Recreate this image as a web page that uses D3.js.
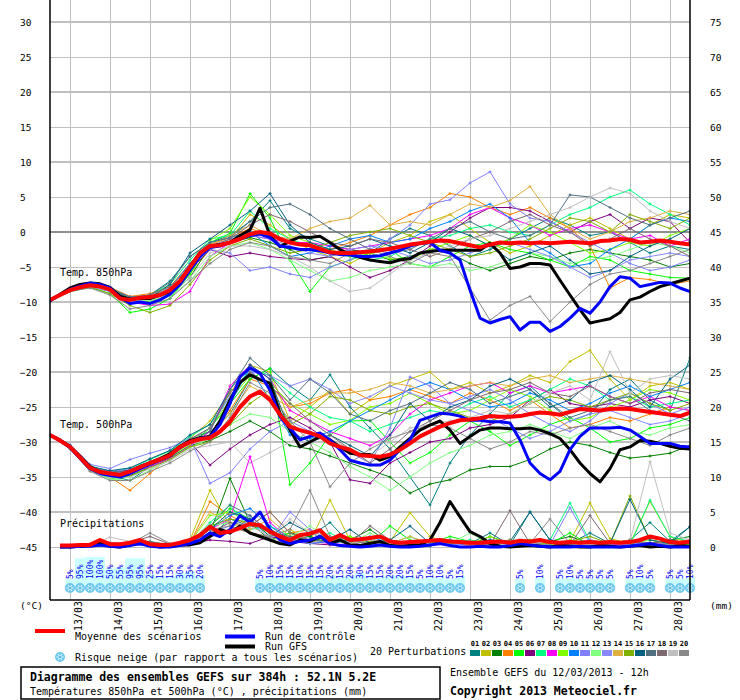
<!DOCTYPE html>
<html lang="fr">
<head>
<meta charset="UTF-8" />
<title>Diagramme des ensembles GEFS</title>
<script src="https://d3js.org/d3.v7.min.js"></script>
<style>
  body { margin: 0; background: #ffffff; }
  svg { display: block; font-family: "DejaVu Sans Mono", monospace; }
  .grid { stroke: #c0c0c0; shape-rendering: crispEdges; }
  .txt { font-size: 10px; fill: #000; }
  .tick-lbl { font-size: 9.5px; fill: #000; }
  .bold { font-size: 11.5px; font-weight: bold; fill: #000; }
</style>
</head>
<body>
<svg id="chart" width="740" height="700"></svg>
<script>
// ---- time steps ----
const hours6 = d3.range(0, 385, 6);    // mean / control / GFS
const hours12 = d3.range(0, 385, 12);  // perturbations
const dateLabels = ["13/03","14/03","15/03","16/03","17/03","18/03","19/03","20/03",
                    "21/03","22/03","23/03","24/03","25/03","26/03","27/03","28/03"];

// ---- 850 hPa (°C), 6h ----
const mean850 = [
  -9.7,-9.0,-8.3,-7.9,-7.6,-7.8,-8.2,-9.5,-9.7,-9.4,-9.3,-9.0,-8.3,
  -7.0,-5.0,-3.0,-2.0,-1.9,-1.5,-1.0,-0.3,0.0,-0.2,-1.0,-1.5,-1.8,
  -1.9,-2.4,-2.9,-3.0,-3.0,-2.9,-2.8,-2.6,-2.4,-2.1,-1.8,-1.6,-1.4,
  -1.2,-1.3,-1.6,-1.9,-2.2,-1.8,-1.5,-1.6,-1.5,-1.6,-1.5,-1.6,-1.5,
  -1.4,-1.5,-1.6,-1.3,-1.2,-1.0,-1.1,-1.5,-1.4,-1.2,-1.4,-1.6,-1.8];
const ctrl850 = [
  -9.8,-9.0,-8.2,-7.7,-7.3,-7.5,-8.0,-9.4,-10.2,-10.0,-10.2,-9.7,-8.9,
  -7.5,-5.5,-3.5,-2.2,-2.0,-1.5,-1.0,-0.5,-0.3,-0.8,-2.0,-2.2,-2.5,
  -2.5,-2.7,-3.0,-3.2,-3.3,-3.5,-3.5,-3.4,-3.0,-2.6,-2.0,-1.6,-1.5,
  -2.6,-3.0,-4.0,-8.3,-12.3,-13.0,-12.5,-12.1,-14.0,-12.9,-12.9,-14.2,-13.5,
  -12.3,-10.9,-11.6,-10.0,-7.8,-6.4,-6.6,-7.8,-7.5,-7.2,-7.3,-8.0,-8.5];
const gfs850 = [
  -9.8,-8.9,-8.0,-7.5,-7.3,-7.4,-7.9,-9.2,-9.6,-9.5,-9.5,-9.0,-8.5,
  -7.0,-5.0,-3.0,-2.0,-1.8,-1.5,-0.5,0.3,3.4,-0.5,-2.1,-1.3,-0.7,
  -0.8,-0.6,-1.5,-2.5,-3.2,-3.6,-4.0,-4.2,-4.4,-4.0,-3.8,-3.0,-2.8,
  -2.6,-2.6,-2.6,-2.6,-2.6,-1.6,-3.0,-5.2,-5.0,-4.5,-4.5,-4.7,-6.9,
  -9.0,-11.1,-13.0,-12.7,-12.4,-11.5,-9.7,-9.3,-8.5,-7.8,-7.4,-7.0,-6.6];

// ---- 500 hPa (°C), 6h ----
const mean500 = [
  -29.0,-29.8,-30.7,-32.2,-33.7,-34.3,-34.5,-34.7,-34.2,-33.6,-33.0,-32.5,-31.9,
  -30.7,-30.0,-29.6,-29.4,-28.5,-27.1,-25.0,-23.5,-22.8,-24.0,-26.1,-27.8,-28.3,
  -28.7,-29.2,-30.2,-30.7,-31.1,-31.9,-32.0,-32.1,-31.8,-31.1,-30.2,-29.2,-28.5,
  -27.8,-27.3,-26.9,-26.8,-26.6,-26.3,-26.4,-26.4,-26.3,-26.0,-25.8,-25.9,-26.1,
  -25.7,-25.3,-25.4,-25.5,-25.3,-25.2,-25.3,-25.5,-25.7,-25.9,-26.1,-26.3,-25.8];
const ctrl500 = [
  -29.0,-29.8,-30.8,-32.3,-33.8,-34.5,-34.8,-35.0,-34.5,-33.8,-33.2,-32.6,-32.0,
  -30.8,-30.0,-29.5,-29.3,-27.5,-24.5,-20.7,-19.4,-20.2,-22.6,-26.4,-28.0,-29.7,
  -29.2,-28.7,-29.7,-31.1,-32.6,-33.0,-33.3,-33.3,-32.6,-31.1,-29.7,-26.9,-26.4,
  -25.9,-26.0,-26.3,-26.9,-26.9,-27.1,-27.1,-27.3,-29.7,-33.0,-34.5,-35.4,-34.2,
  -31.1,-29.2,-28.0,-28.0,-28.0,-27.9,-28.3,-29.2,-30.2,-30.2,-30.2,-30.6,-30.7];
const gfs500 = [
  -29.0,-29.7,-30.6,-32.0,-33.5,-34.3,-34.6,-34.8,-34.2,-33.5,-33.0,-32.4,-31.7,
  -30.6,-29.8,-29.4,-29.2,-27.0,-24.0,-21.5,-20.4,-21.1,-21.6,-25.9,-28.3,-30.7,
  -30.0,-29.2,-29.7,-30.7,-31.6,-31.8,-31.8,-32.6,-32.1,-30.7,-29.5,-28.3,-27.6,
  -27.0,-28.3,-30.2,-29.2,-28.3,-28.0,-28.0,-28.1,-28.1,-28.0,-28.3,-28.8,-29.5,
  -31.1,-33.0,-34.5,-35.7,-33.8,-31.1,-30.7,-29.8,-29.9,-30.2,-30.6,-30.9,-31.0];

// ---- precipitation (mm), 6h, from +6h ----
const meanPrecip = [
  0.2,0.2,0.3,0.3,1.0,0.4,0.4,0.6, 1.0,0.4,0.3,0.3,0.6,1.0,1.7,2.9,
  2.0,2.2,2.7,3.3,3.1,2.2,1.5,1.0, 1.7,1.9,2.4,1.0,1.7,1.0,1.1,1.3,
  1.5,0.8,0.6,0.7,0.8,0.9,1.0,0.8, 0.7,0.6,0.6,0.7,0.8,0.6,0.9,0.8,
  1.0,0.7,0.6,0.7,0.6,0.7,0.6,0.7, 0.6,0.7,1.0,1.5,1.2,0.7,0.6,0.8];
const ctrlPrecip = [
  0.0,0.0,0.1,0.1,0.3,0.1,0.0,0.2, 0.5,0.1,0.0,0.0,0.2,0.5,1.0,2.0,
  1.5,2.5,4.5,3.5,5.0,2.5,1.0,0.5, 0.8,1.0,1.5,0.5,0.2,0.1,0.0,0.1,
  0.3,0.1,0.0,0.0,0.1,0.3,0.5,0.2, 0.0,0.0,0.1,0.0,0.0,0.2,0.5,0.3,
  0.1,0.0,0.0,0.0,0.1,0.0,0.0,0.0, 0.0,0.1,0.3,0.5,0.2,0.0,0.0,0.0];
const gfsPrecip = [
  0.0,0.0,0.1,0.2,0.5,0.1,0.0,0.3, 0.8,0.2,0.0,0.1,0.3,0.3,0.6,1.5,
  2.5,2.0,3.0,2.0,1.5,1.0,0.5,0.3, 1.0,0.8,1.5,0.5,1.0,0.3,0.2,0.5,
  0.8,0.2,0.1,0.2,0.3,1.0,3.5,6.5, 4.3,2.2,1.5,0.5,0.1,0.0,0.1,0.2,
  0.1,0.0,0.2,0.1,0.0,0.0,0.2,0.1, 0.0,0.1,0.2,0.0,0.1,0.0,0.2,0.1];

// ---- 20 perturbations ----
const pertNames = ["01","02","03","04","05","06","07","08","09","10",
                   "11","12","13","14","15","16","17","18","19","20"];
const pertColors = ["#008080","#c0c000","#008000","#ff8000","#00ff00","#800080","#00ff80","#ff00ff","#80ff00","#0080ff",
                    "#8080ff","#80ff80","#8888ff","#e0b040","#80b000","#006080","#507080","#806870","#c0c0c0","#888888"];

// 850 hPa, 12h steps
const pert850 = [
  [-9.8,-8.2,-7.5,-8.0,-9.4,-9.0,-7.0,-3.5,-1.5,-0.5,1.5, 4.5,0.5,-1.0,-2.0,-2.5,-3.0,-1.0,0.5,-0.5,-2.0,-3.5, -2.5,-1.0,0.5,2.0,1.0,-0.5,0.0,-1.5,-3.0,-2.0,-2.5],
  [-9.7,-8.4,-7.8,-8.3,-9.8,-9.6,-8.8,-6.0,-2.5,-1.0,2.5, 1.0,-1.0,-2.5,-3.5,-4.5,-3.0,-1.5,-0.5,1.5,2.5,0.5, -1.5,-3.0,-2.0,-0.5,1.0,2.0,0.5,-1.0,1.0,2.5,2.0],
  [-9.8,-8.3,-7.7,-8.5,-10.0,-10.2,-9.0,-6.5,-2.0,-1.5,-0.8, -1.5,-2.5,-4.0,-3.5,-2.5,-3.0,-4.0,-3.5,-2.5,-3.0,-4.5, -5.5,-4.5,-3.5,-4.0,-3.0,-2.5,-3.0,-3.5,-4.0,-5.0,-4.5],
  [-9.6,-8.1,-7.4,-7.9,-9.2,-8.8,-7.8,-4.5,-1.8,-0.8,0.5, -0.5,-1.5,-2.0,-2.5,-1.5,-0.5,1.0,2.5,3.5,5.5,5.0, 3.5,2.5,3.5,2.0,0.5,-2.0,-8.0,-6.5,-6.8,-7.5,-7.0],
  [-9.9,-8.5,-7.9,-8.8,-11.5,-11.0,-9.5,-6.0,-1.5,-0.2,5.5, 2.0,-4.0,-8.5,-5.0,-4.0,-3.0,-2.5,-4.5,-5.0,-3.5,-2.0, -1.5,-2.5,-3.0,-4.0,-5.0,-3.5,-4.0,-5.5,-6.0,-6.5,-6.6],
  [-9.8,-8.4,-7.7,-8.3,-9.6,-9.4,-8.0,-5.5,-2.5,-3.5,-3.0, -3.5,-3.8,-4.0,-3.5,-5.0,-6.5,-5.5,-4.0,-2.0,0.0,2.0, 3.5,3.5,3.0,1.5,0.0,1.5,2.5,0.5,2.0,1.5,-1.5],
  [-9.7,-8.2,-7.5,-8.1,-9.5,-9.0,-7.5,-4.0,-1.0,-0.5,3.0, 0.5,-1.0,-2.0,-3.0,-3.5,-4.0,-3.5,-2.0,-1.0,-0.5,0.5, 1.0,0.0,-0.5,1.0,2.5,3.5,5.0,6.0,4.0,2.5,1.0],
  [-9.8,-8.3,-7.6,-8.4,-10.0,-10.5,-10.3,-8.5,-3.5,-1.5,-0.5, -1.0,-1.5,-1.5,-2.0,-2.5,-2.0,-1.5,-1.0,-0.5,0.5,2.5, 3.5,2.0,1.0,-0.5,0.5,1.0,0.0,-1.0,-0.5,-2.0,-1.0],
  [-9.7,-8.2,-7.6,-8.2,-9.8,-9.9,-9.0,-5.5,-1.2,0.5,5.0, 2.5,-0.5,-1.5,-2.5,-3.5,-3.0,-3.8,-4.0,-2.5,-1.5,-0.5, -2.0,-1.0,1.0,0.0,-1.5,-3.0,-2.5,-1.5,-2.0,-0.5,0.5],
  [-9.8,-8.3,-7.5,-8.0,-9.3,-9.2,-8.0,-4.5,-1.5,-0.8,0.0, -2.0,-3.5,-3.0,-2.0,-1.0,-0.5,-1.5,-1.0,0.5,1.5,3.0, 4.0,2.0,-1.5,-3.0,-5.0,-4.5,-2.5,-1.0,1.0,2.0,1.5],
  [-9.9,-8.4,-7.8,-8.5,-9.8,-9.5,-8.5,-5.0,-2.5,-3.0,-5.5, -5.0,-6.0,-6.5,-5.0,-4.0,-2.5,-1.0,1.0,4.0,4.6,7.0, 8.6,4.0,2.0,1.5,0.0,-1.5,-3.0,-4.5,-5.5,-5.0,-4.0],
  [-9.7,-8.3,-7.7,-8.3,-9.7,-9.8,-9.2,-7.0,-3.5,-2.0,-1.5, -2.5,-4.0,-5.5,-7.0,-6.5,-5.5,-5.0,-4.5,-5.0,-4.5,-5.5, -5.0,-4.0,-3.0,-3.5,-4.5,-4.0,-3.5,-2.5,-1.5,-2.0,-3.0],
  [-9.8,-8.2,-7.6,-8.1,-9.4,-9.3,-8.4,-5.5,-2.2,-1.0,-0.5, -1.0,-2.0,-3.0,-3.5,-2.5,-2.0,-2.5,-3.5,-4.5,-4.0,-3.0, -2.0,-1.5,-2.5,-3.5,-5.0,-6.5,-5.5,-4.0,-3.5,-3.0,-3.5],
  [-9.6,-8.1,-7.5,-8.0,-9.4,-9.1,-8.1,-4.8,-1.8,-0.5,1.0, -0.5,-1.0,0.5,1.5,2.0,3.8,1.0,1.5,1.0,2.5,4.0, 3.5,4.5,6.5,2.5,0.5,-1.0,0.0,1.5,2.0,3.0,2.5],
  [-9.8,-8.4,-7.9,-8.8,-10.5,-11.5,-10.5,-7.5,-4.0,-2.0,-1.0, -2.0,-3.0,-2.5,-1.5,-0.5,0.0,0.5,-0.5,-1.5,-2.5,-3.5, -3.0,-2.0,-1.0,0.5,2.0,1.5,0.0,2.5,1.5,0.5,2.0],
  [-9.8,-8.3,-7.6,-8.2,-9.5,-9.4,-7.5,-3.0,-1.0,1.0,3.0, 5.5,1.0,-1.5,-2.5,-2.0,-1.0,-2.0,-3.0,-1.5,0.5,-0.5, -2.0,-4.0,-3.0,-2.0,-4.0,-6.0,-5.5,-3.5,-2.0,-1.0,0.5],
  [-9.7,-8.2,-7.6,-8.1,-9.3,-9.0,-7.2,-3.5,-1.5,-0.8,1.5, 3.5,4.0,2.5,0.5,-1.0,-2.5,-3.0,-2.5,-1.0,0.5,1.5, 0.0,-1.0,-0.5,1.0,5.3,5.0,3.5,2.0,1.0,2.0,3.0],
  [-9.8,-8.4,-7.7,-8.3,-9.6,-9.0,-7.8,-5.0,-2.0,-1.0,1.0, 2.5,1.5,0.0,-1.5,-2.0,-1.0,-1.5,-2.5,-3.5,-2.5,-1.0, 0.0,1.5,2.5,1.0,0.0,-2.0,-1.0,0.5,-1.0,-2.0,-3.5],
  [-9.8,-8.3,-7.7,-8.4,-9.9,-9.6,-9.0,-6.5,-3.0,-2.0,-2.0, -2.5,-3.5,-5.0,-7.0,-8.5,-8.0,-6.0,-4.0,-3.0,-2.0,-1.0, -0.5,0.5,1.5,2.5,3.5,5.0,6.3,5.5,3.0,1.5,0.5],
  [-9.9,-8.5,-8.0,-9.0,-11.0,-10.5,-9.5,-7.0,-4.5,-2.5,-1.5, -2.0,-3.5,-4.0,-4.5,-3.0,-2.5,-3.5,-4.5,-3.0,-3.5,-8.0, -12.6,-10.5,-9.2,-12.8,-10.0,-7.5,-6.0,-5.5,-4.5,-3.5,-2.5]
];

// 500 hPa, 12h steps
const pert500 = [
  [-29.0,-30.5,-33.5,-34.8,-35.5,-33.5,-31.5,-29.5,-28.5,-26.0,-21.0, -19.5,-22.0,-24.0,-20.4,-25.0,-28.0,-31.0,-35.0,-39.0,-33.0,-29.0, -26.0,-23.0,-22.0,-24.5,-27.0,-26.0,-22.5,-21.0,-24.0,-25.5,-18.0],
  [-29.0,-30.6,-33.6,-34.3,-34.0,-32.8,-31.5,-29.5,-27.0,-23.0,-19.0, -20.0,-27.0,-25.0,-22.6,-26.0,-24.0,-22.0,-21.0,-20.0,-22.5,-21.5, -23.0,-22.0,-20.5,-21.5,-18.5,-16.9,-21.0,-24.0,-22.0,-21.5,-22.5],
  [-29.0,-30.8,-33.9,-34.9,-34.8,-33.6,-32.3,-30.5,-29.8,-28.5,-27.0, -28.5,-30.5,-31.0,-32.0,-33.0,-34.0,-35.0,-37.3,-36.0,-35.4,-34.0, -33.5,-33.5,-32.5,-31.0,-30.0,-30.5,-31.5,-32.3,-32.0,-31.6,-30.5],
  [-29.0,-30.6,-33.8,-35.0,-36.9,-34.5,-32.0,-30.2,-29.0,-25.5,-21.0, -22.0,-25.0,-24.5,-23.0,-22.5,-24.0,-23.5,-22.5,-23.5,-24.5,-23.0, -24.0,-25.5,-24.0,-26.0,-28.0,-27.5,-26.5,-27.0,-26.0,-25.0,-25.5],
  [-29.0,-30.9,-34.0,-35.2,-35.0,-33.4,-32.2,-30.5,-28.0,-24.5,-21.0, -19.5,-36.1,-33.0,-29.0,-27.0,-26.9,-30.0,-33.0,-31.5,-29.0,-27.0, -28.5,-30.5,-29.0,-27.5,-26.5,-28.0,-30.0,-29.5,-28.0,-27.5,-26.5],
  [-29.0,-30.7,-33.7,-34.4,-34.0,-32.9,-31.8,-30.0,-33.3,-31.0,-29.0, -27.5,-26.5,-28.0,-30.0,-35.4,-35.9,-33.0,-31.5,-30.0,-29.5,-28.0, -27.5,-26.5,-24.0,-22.5,-24.5,-25.0,-24.5,-25.0,-24.0,-23.5,-24.5],
  [-29.0,-30.5,-33.4,-34.2,-33.8,-32.5,-31.3,-29.2,-27.5,-23.5,-19.5, -20.5,-23.0,-25.0,-26.5,-27.0,-28.5,-27.5,-26.5,-25.5,-26.0,-24.5, -23.5,-25.0,-24.0,-22.5,-21.0,-22.0,-24.0,-23.5,-25.0,-24.5,-24.0],
  [-29.0,-30.8,-33.9,-34.9,-34.6,-33.5,-32.4,-30.6,-28.5,-22.0,-19.0, -21.0,-25.5,-27.0,-28.5,-29.5,-30.5,-29.0,-26.0,-24.0,-23.0,-22.0, -21.5,-23.0,-22.0,-23.0,-22.5,-22.0,-23.5,-24.5,-23.5,-25.0,-25.5],
  [-29.0,-30.6,-33.6,-34.6,-34.4,-33.2,-31.7,-29.8,-28.0,-24.0,-20.5, -21.5,-24.5,-26.0,-27.5,-26.9,-25.0,-24.5,-23.0,-24.5,-26.0,-25.5, -24.0,-22.5,-23.5,-25.5,-27.0,-26.5,-25.0,-24.0,-22.5,-23.0,-24.0],
  [-29.0,-30.7,-33.7,-34.5,-34.3,-33.1,-32.0,-30.1,-29.0,-24.5,-19.5, -24.0,-29.0,-29.5,-28.5,-27.0,-25.5,-24.0,-22.5,-21.5,-22.5,-24.0, -25.0,-24.5,-23.0,-24.0,-25.5,-24.5,-23.0,-22.0,-23.5,-22.5,-21.5],
  [-29.0,-30.4,-33.2,-33.8,-32.5,-31.6,-30.8,-29.5,-35.9,-34.4,-31.0, -28.5,-27.0,-28.5,-30.0,-31.5,-33.0,-28.0,-20.7,-22.0,-24.5,-23.5, -22.5,-24.0,-26.0,-27.5,-28.5,-27.0,-24.5,-23.0,-24.5,-26.0,-25.0],
  [-29.0,-30.9,-34.1,-35.3,-35.5,-34.0,-32.6,-30.8,-29.5,-27.5,-26.0, -26.5,-28.5,-30.0,-31.5,-33.5,-35.0,-36.9,-35.0,-33.0,-31.5,-30.5, -29.0,-28.5,-27.5,-28.5,-29.5,-28.0,-27.0,-28.5,-29.0,-28.0,-27.5],
  [-29.0,-30.6,-33.5,-34.2,-33.9,-32.8,-31.6,-29.7,-28.0,-23.5,-20.0, -20.5,-22.0,-21.0,-22.5,-24.5,-23.5,-22.0,-23.0,-24.0,-24.5,-25.5, -26.5,-28.0,-29.5,-28.5,-27.0,-26.0,-25.5,-26.5,-27.5,-27.0,-26.0],
  [-29.0,-30.7,-33.8,-34.7,-34.5,-33.3,-32.1,-30.3,-29.0,-26.0,-22.0, -23.5,-25.0,-24.0,-23.0,-23.0,-22.5,-21.5,-22.0,-23.0,-22.5,-22.0, -21.5,-22.0,-21.0,-20.5,-21.5,-21.0,-20.5,-21.0,-21.5,-22.0,-22.5],
  [-29.0,-30.8,-33.9,-35.0,-34.9,-33.7,-32.5,-30.7,-30.0,-27.5,-24.5, -22.5,-27.5,-26.0,-23.5,-24.0,-25.5,-26.0,-25.0,-24.5,-25.5,-26.5, -27.0,-26.0,-24.5,-23.5,-24.0,-25.0,-24.0,-23.0,-24.5,-25.5,-24.5],
  [-29.0,-30.6,-33.5,-34.1,-33.7,-32.4,-31.2,-29.0,-27.5,-22.5,-19.0, -21.0,-28.5,-30.0,-29.0,-30.5,-32.0,-29.0,-24.5,-27.0,-25.0,-24.0, -22.0,-21.0,-22.5,-25.0,-24.0,-21.5,-20.5,-22.5,-25.0,-21.0,-19.0],
  [-29.0,-30.5,-33.5,-34.3,-34.1,-33.0,-31.9,-29.9,-28.5,-22.5,-18.0, -20.5,-24.0,-21.0,-23.0,-26.0,-27.0,-25.5,-24.5,-23.0,-21.5,-22.5, -24.5,-23.5,-22.5,-24.5,-26.5,-25.5,-24.0,-23.5,-25.5,-26.0,-27.0],
  [-29.0,-30.7,-33.6,-34.4,-34.2,-33.0,-31.6,-29.6,-28.0,-23.0,-20.0, -22.0,-24.5,-27.0,-29.0,-31.0,-33.0,-31.0,-28.5,-27.0,-25.5,-24.0, -23.0,-22.5,-21.5,-23.0,-23.5,-22.0,-23.5,-24.5,-23.0,-22.5,-23.0],
  [-29.0,-30.8,-34.0,-35.1,-35.0,-33.8,-32.7,-31.0,-30.5,-30.0,-33.0, -31.5,-30.0,-28.5,-29.5,-31.0,-32.0,-30.0,-28.0,-27.5,-27.0,-26.5, -25.5,-26.0,-24.5,-23.0,-22.0,-24.0,-17.1,-23.0,-21.0,-20.5,-21.0],
  [-29.0,-31.0,-34.2,-35.5,-35.5,-34.2,-33.0,-31.3,-30.0,-26.5,-21.5, -23.0,-27.0,-30.0,-36.4,-33.0,-31.0,-29.5,-28.5,-27.5,-28.0,-29.5, -31.0,-30.0,-28.5,-29.0,-28.0,-27.5,-28.5,-29.5,-30.5,-29.0,-28.0]
];

// precipitation, 12h steps from +12h
const pertPrecip = [
  [0.1,0.2,0.5,0.3,0.8,0.2,0.5,1.5, 4.0,3.0,2.5,1.0,1.5,3.5,0.5,1.0, 0.3,0.2,0.1,1.0,0.5,2.0,0.3,5.0, 1.0,0.5,2.0,0.5,1.0,3.5,0.8,2.9],
  [0.0,0.3,0.2,0.5,0.4,0.3,1.0,8.1, 3.0,2.0,1.5,2.5,0.8,6.7,1.0,0.5, 0.8,4.9,1.5,0.5,0.3,0.5,1.0,0.5, 0.5,0.8,6.3,1.2,0.5,6.5,1.5,0.5],
  [0.0,0.1,0.2,0.3,0.2,0.1,0.5,2.0, 9.8,3.5,1.0,2.0,1.5,0.5,1.0,2.5, 0.5,0.3,0.5,1.0,0.3,1.5,0.5,0.2, 0.8,1.5,0.5,0.3,0.8,0.5,1.0,1.5],
  [0.2,0.3,0.5,0.4,0.5,0.3,0.5,6.5, 4.5,3.0,5.0,2.0,2.5,1.0,0.8,0.5, 0.3,0.5,1.0,0.5,0.2,1.0,0.5,0.8, 0.3,0.5,1.0,0.5,0.8,0.3,0.5,0.8],
  [0.1,0.2,0.3,0.2,0.4,0.3,0.8,3.0, 5.5,4.0,1.5,2.0,0.5,1.0,1.5,0.5, 3.0,1.0,0.5,1.5,0.8,0.3,0.5,1.0, 0.5,2.0,0.3,0.5,0.8,1.5,0.5,0.8],
  [0.0,0.1,0.3,0.2,0.3,0.2,0.4,1.0, 0.8,0.5,1.5,0.8,0.5,0.3,0.2,0.5, 0.3,0.2,0.4,0.3,0.5,0.2,0.3,0.5, 0.2,0.3,0.5,0.8,0.3,0.5,1.0,0.5],
  [0.1,0.2,0.4,0.3,0.5,0.3,0.6,3.5, 6.0,2.5,3.0,1.5,1.0,2.0,0.5,0.8, 0.5,1.5,0.3,0.5,1.0,0.5,0.8,0.5, 1.0,6.3,0.8,0.5,0.3,6.7,1.5,0.8],
  [0.1,0.2,0.3,0.3,0.5,0.2,0.5,2.5, 4.0,12.9,3.5,1.0,0.8,0.5,0.3,1.0, 0.5,0.3,0.2,0.5,0.3,0.5,0.8,0.3, 0.5,0.3,0.5,0.3,0.5,0.3,0.8,0.5],
  [0.1,0.3,0.5,0.4,0.6,0.3,0.7,4.5, 5.0,3.5,2.0,1.5,0.8,1.0,1.5,0.5, 1.0,0.5,0.3,0.8,0.5,1.5,0.5,0.8, 0.3,1.0,0.5,0.8,0.5,1.0,0.5,0.3],
  [0.1,0.2,0.3,0.2,0.4,0.2,0.5,2.5, 4.5,5.5,3.0,1.0,0.5,0.8,0.5,1.5, 0.5,0.3,0.5,0.3,0.5,0.8,0.3,0.5, 1.0,0.3,0.5,0.8,0.5,0.3,0.5,0.5],
  [0.0,0.1,0.3,0.2,0.3,0.2,0.5,1.5, 2.0,4.0,1.0,5.0,2.5,1.0,0.5,0.3, 1.0,0.5,0.3,1.0,0.5,0.8,0.5,0.5, 0.3,5.6,0.5,0.3,1.0,0.5,0.3,0.8],
  [0.1,0.2,0.3,0.3,0.4,0.2,0.5,3.0, 3.5,2.0,1.0,1.5,3.0,1.0,0.5,2.0, 0.5,0.8,0.3,0.5,2.0,0.5,0.3,0.5, 0.8,0.5,0.3,0.8,0.5,1.0,0.5,0.8],
  [0.1,0.2,0.4,0.3,0.5,0.3,0.5,2.0, 3.0,4.5,2.0,1.0,0.5,1.0,0.8,0.5, 0.3,0.8,0.5,0.3,0.5,1.0,0.5,0.3, 0.8,0.5,1.0,0.5,0.3,0.5,0.8,0.5],
  [0.2,0.3,0.5,0.4,0.7,0.3,0.8,5.0, 3.5,2.5,4.0,1.5,1.0,1.5,0.5,1.0, 0.5,1.5,0.5,0.8,0.3,0.5,1.0,0.5, 0.8,0.5,0.3,0.5,1.0,0.5,0.8,0.5],
  [0.1,0.2,0.4,0.3,0.5,0.2,0.6,3.0, 4.0,3.5,2.5,1.0,2.0,1.0,0.5,0.8, 0.3,0.5,1.0,0.5,0.8,0.5,1.0,0.3, 0.5,0.8,1.5,0.5,7.3,1.0,0.5,0.8],
  [0.1,0.2,0.5,0.3,0.6,0.3,0.5,2.5, 5.0,4.0,1.5,3.5,2.0,1.0,2.5,0.5, 1.0,3.0,0.5,0.8,0.5,1.0,0.8,5.0, 1.0,0.5,0.8,0.5,6.8,1.0,0.5,2.9],
  [0.2,0.3,0.5,0.4,0.7,0.4,0.8,3.0, 6.0,4.5,2.0,1.5,1.0,0.8,1.0,0.5, 0.8,0.5,0.3,0.5,0.8,0.5,0.3,0.5, 0.8,0.5,0.3,0.5,0.8,0.5,1.0,0.5],
  [0.1,0.3,0.5,0.6,1.5,0.4,0.8,2.0, 3.5,3.0,5.0,2.0,1.0,1.5,0.5,3.0, 1.0,0.5,0.3,0.8,0.5,0.3,5.2,0.5, 0.8,0.3,4.5,0.5,0.8,0.5,1.0,0.5],
  [0.2,0.3,1.4,0.8,0.5,0.3,0.5,2.0, 2.5,3.0,1.5,4.0,2.0,1.0,0.5,1.0, 0.5,0.3,0.5,0.3,0.8,0.5,0.3,0.5, 0.8,0.5,0.3,0.5,0.8,12.2,2.0,1.0],
  [0.2,0.4,0.6,0.5,2.0,0.5,0.8,2.5, 3.0,2.0,1.5,2.5,8.1,1.5,1.0,0.5, 0.8,0.5,0.3,0.5,0.8,0.3,1.0,0.5, 4.0,0.5,0.8,0.5,1.0,0.5,0.3,0.5]
];

// ---- snow risk (% of scenarios) ----
const snowHours = [12,18,24,30,36,42,48,54,60,66,72,78,84,90,
                   126,132,138,144,150,156,162,168,174,180,186,192,198,204,210,216,222,228,234,240,246,
                   282,294,306,312,318,324,330,336,348,354,360,372,378,384];
const snowPct = [5,95,100,100,50,55,95,95,25,15,15,30,35,20,
                 5,10,15,15,10,15,15,20,15,20,30,15,15,20,20,15,5,10,10,5,15,
                 5,10,5,10,5,5,5,5,5,10,5,5,5,10];

// ---------------------------------------------------------------
const svg = d3.select("#chart");
svg.append("rect").attr("width", 740).attr("height", 700).attr("fill", "#fff");

const x = d3.scaleLinear().domain([0, 384]).range([50, 690]);
const yT = d3.scaleLinear().domain([-45, 30]).range([547, 22]);
const yP = d3.scaleLinear().domain([0, 75]).range([547, 22]);
const snowTop = d3.scaleLinear().domain([0, 100]).range([580, 557]);

svg.append("defs").append("clipPath").attr("id", "plotClip")
  .append("rect").attr("x", 50).attr("y", 0).attr("width", 640).attr("height", 600);

// grid
const grid = svg.append("g");
const dayHours = dateLabels.map((d, i) => 12 + 24 * i);
grid.selectAll("line.v").data(dayHours).join("line")
  .attr("class", "grid v")
  .attr("x1", d => x(d)).attr("x2", d => x(d))
  .attr("y1", 0).attr("y2", 600);
grid.selectAll("line.h").data(d3.range(-45, 31, 5)).join("line")
  .attr("class", "grid h")
  .attr("x1", 50).attr("x2", 690)
  .attr("y1", d => yT(d)).attr("y2", d => yT(d))
  .attr("stroke-width", d => d % 10 === 0 ? 2 : 1)
  .style("stroke", d => d === 0 ? "#909090" : null);

// snow risk
const snow = svg.append("g");
const snowData = snowHours.map((h, i) => ({ h, p: snowPct[i] }));
snow.selectAll("rect").data(snowData).join("rect")
  .attr("x", d => x(d.h) - 5).attr("width", 10)
  .attr("y", d => snowTop(d.p)).attr("height", d => 590 - snowTop(d.p))
  .attr("fill", "#ccffff");

function flake(g, cx, cy) {
  const f = g.append("g").attr("transform", `translate(${cx},${cy})`);
  f.append("circle").attr("r", 5).attr("fill", "#6ec8ec");
  [0, 60, 120].forEach(a => f.append("line")
    .attr("x1", -3.6).attr("x2", 3.6).attr("transform", `rotate(${a})`)
    .attr("stroke", "#dff6ff").attr("stroke-width", 1));
  f.append("circle").attr("r", 1).attr("fill", "#3aa6d8");
}
snowData.forEach(d => flake(snow, x(d.h), 588));
snow.selectAll("text").data(snowData).join("text")
  .attr("transform", d => `translate(${x(d.h) + 3},579) rotate(-90)`)
  .attr("font-size", 8).attr("fill", "#0000ff")
  .text(d => d.p + "%");

// data lines
const plot = svg.append("g").attr("clip-path", "url(#plotClip)");
const line = d3.line();
function drawSeries(values, hours, yScale, color, width, marks) {
  const pts = values.map((v, i) => [x(hours[i]), yScale(v)]);
  plot.append("path").attr("d", line(pts))
    .attr("fill", "none").attr("stroke", color).attr("stroke-width", width)
    .attr("stroke-linejoin", "round");
  if (marks) {
    plot.append("path")
      .attr("d", pts.map(p => `M${p[0] - 1.5},${p[1]}h3M${p[0]},${p[1] - 1.5}v3`).join(""))
      .attr("stroke", color).attr("stroke-width", 1).attr("fill", "none");
  }
}
pert850.forEach((s, i) => drawSeries(s, hours12, yT, pertColors[i], 1, true));
pert500.forEach((s, i) => drawSeries(s, hours12, yT, pertColors[i], 1, true));
pertPrecip.forEach((s, i) => drawSeries(s, hours12.slice(1), yP, pertColors[i], 1, true));

drawSeries(gfs850, hours6, yT, "#000", 3, false);
drawSeries(gfs500, hours6, yT, "#000", 3, false);
drawSeries(gfsPrecip, hours6.slice(1), yP, "#000", 3, false);
drawSeries(ctrl850, hours6, yT, "#0000ff", 3, false);
drawSeries(ctrl500, hours6, yT, "#0000ff", 3, false);
drawSeries(ctrlPrecip, hours6.slice(1), yP, "#0000ff", 3, false);
drawSeries(mean850, hours6, yT, "#ff0000", 4, false);
drawSeries(mean500, hours6, yT, "#ff0000", 4, false);
drawSeries(meanPrecip, hours6.slice(1), yP, "#ff0000", 4, false);

// panel labels
svg.append("text").attr("class", "txt").attr("x", 60).attr("y", 276).text("Temp. 850hPa");
svg.append("text").attr("class", "txt").attr("x", 60).attr("y", 428).text("Temp. 500hPa");
svg.append("text").attr("class", "txt").attr("x", 60).attr("y", 527).text("Précipitations");

// frame
const frame = svg.append("g").attr("stroke", "#000").attr("stroke-width", 1.5);
frame.append("line").attr("x1", 50).attr("x2", 50).attr("y1", 0).attr("y2", 600);
frame.append("line").attr("x1", 690).attr("x2", 690).attr("y1", 0).attr("y2", 600);
frame.append("line").attr("x1", 50).attr("x2", 690).attr("y1", 600).attr("y2", 600);

// left axis (°C)
const axL = svg.append("g").call(d3.axisLeft(yT).tickValues(d3.range(-45, 31, 5)).tickSize(0));
axL.select(".domain").remove();
axL.selectAll("text").attr("x", 20).attr("text-anchor", "start")
  .attr("class", "tick-lbl").attr("font-family", null).attr("font-size", null);
axL.attr("font-family", null).attr("font-size", null);

// right axis (mm)
const axR = svg.append("g").call(d3.axisRight(yP).tickValues(d3.range(0, 76, 5)).tickSize(0));
axR.select(".domain").remove();
axR.selectAll("text").attr("x", 710).attr("text-anchor", "start")
  .attr("class", "tick-lbl");
axR.attr("font-family", null).attr("font-size", null);

svg.append("text").attr("class", "tick-lbl").attr("x", 20).attr("y", 609).text("(°C)");
svg.append("text").attr("class", "tick-lbl").attr("x", 710).attr("y", 609).text("(mm)");

// date labels
svg.append("g").selectAll("text").data(dateLabels).join("text")
  .attr("class", "txt")
  .attr("transform", (d, i) => `translate(${x(dayHours[i]) + 12},631) rotate(-90)`)
  .text(d => d);

// legend
const leg = svg.append("g");
leg.append("line").attr("x1", 35).attr("x2", 65).attr("y1", 631).attr("y2", 631)
  .attr("stroke", "#ff0000").attr("stroke-width", 4);
leg.append("text").attr("class", "txt").attr("x", 75).attr("y", 640).text("Moyenne des scénarios");
leg.append("line").attr("x1", 225).attr("x2", 255).attr("y1", 636.5).attr("y2", 636.5)
  .attr("stroke", "#0000ff").attr("stroke-width", 4);
leg.append("text").attr("class", "txt").attr("x", 265).attr("y", 640).text("Run de contrôle");
leg.append("line").attr("x1", 225).attr("x2", 255).attr("y1", 646.5).attr("y2", 646.5)
  .attr("stroke", "#000").attr("stroke-width", 4);
leg.append("text").attr("class", "txt").attr("x", 265).attr("y", 650).text("Run GFS");
flake(leg, 60, 657);
leg.append("text").attr("class", "txt").attr("x", 75).attr("y", 661)
  .text("Risque neige (par rapport a tous les scénarios)");

leg.append("text").attr("class", "txt").attr("x", 370).attr("y", 655).text("20 Perturbations");
const sw = leg.append("g").selectAll("g").data(pertNames).join("g")
  .attr("transform", (d, i) => `translate(${470 + 11 * i},0)`);
sw.append("rect").attr("y", 650).attr("width", 10).attr("height", 6)
  .attr("fill", (d, i) => pertColors[i]);
sw.append("text").attr("x", 5).attr("y", 646).attr("text-anchor", "middle")
  .attr("font-size", 7).attr("font-weight", "bold").text(d => d);

// title box
svg.append("rect").attr("x", 21).attr("y", 667).attr("width", 419).attr("height", 32)
  .attr("fill", "#fff").attr("stroke", "#000").attr("stroke-width", 1.5);
svg.append("text").attr("class", "bold").attr("x", 30).attr("y", 681)
  .text("Diagramme des ensembles GEFS sur 384h : 52.1N 5.2E");
svg.append("text").attr("class", "txt").attr("x", 30).attr("y", 695)
  .text("Températures 850hPa et 500hPa (°C) , précipitations (mm)");
svg.append("text").attr("class", "txt").attr("x", 450).attr("y", 676)
  .text("Ensemble GEFS du 12/03/2013 - 12h");
svg.append("text").attr("class", "bold").attr("x", 450).attr("y", 695)
  .text("Copyright 2013 Meteociel.fr");
</script>
</body>
</html>
